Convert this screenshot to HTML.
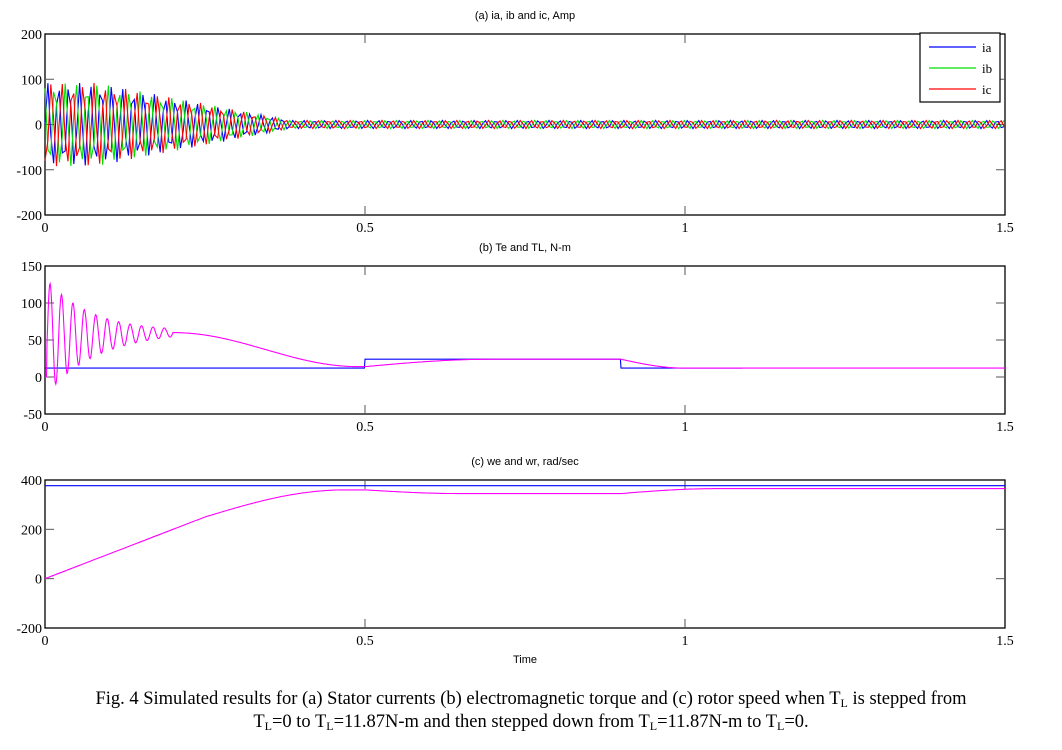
<!DOCTYPE html>
<html><head><meta charset="utf-8"><style>
body{margin:0;background:#fff;width:1062px;height:750px;overflow:hidden}
svg text{font-family:"Liberation Serif",serif}
.t{font-family:"Liberation Sans",sans-serif;font-size:11px}
.cap{position:absolute;left:0;width:1062px;text-align:center;font-family:"Liberation Serif",serif;font-size:18.5px;line-height:22px;color:#000}
sub{font-size:12px;vertical-align:-3px;line-height:0}
</style></head><body>
<svg id="s" width="1062" height="750" style="position:absolute;left:0;top:0"></svg>
<div class="cap" style="top:688px">Fig. 4 Simulated results for (a) Stator currents (b) electromagnetic torque and (c) rotor speed when T<sub>L</sub> is stepped from</div>
<div class="cap" style="top:711px">T<sub>L</sub>=0 to T<sub>L</sub>=11.87N-m and then stepped down from T<sub>L</sub>=11.87N-m to T<sub>L</sub>=0.</div>
<script>
var S=document.getElementById('s'),h='';
var L=45,R=1005;
function X(t){return L+t*640}
function axes(top,bot,ymin,ymax,yt,title,xlab){
 h+='<text class="t" x="525" y="'+(top-15)+'" text-anchor="middle" font-size="11">'+title+'</text>';
 h+='<rect x="'+L+'" y="'+top+'" width="'+(R-L)+'" height="'+(bot-top)+'" fill="none" stroke="#000" stroke-width="1.3"/>';
 [0.5,1].forEach(function(t){var x=X(t);h+='<line x1="'+x+'" y1="'+top+'" x2="'+x+'" y2="'+(top+9)+'" stroke="#555"/><line x1="'+x+'" y1="'+bot+'" x2="'+x+'" y2="'+(bot-9)+'" stroke="#555"/>';});
 [[0,'0'],[0.5,'0.5'],[1,'1'],[1.5,'1.5']].forEach(function(a){h+='<text x="'+X(a[0])+'" y="'+(bot+17)+'" font-size="14" text-anchor="middle">'+a[1]+'</text>';});
 yt.forEach(function(v){var y=bot-(v-ymin)/(ymax-ymin)*(bot-top);
  h+='<text x="'+(L-3)+'" y="'+(y+5)+'" font-size="14" text-anchor="end">'+(v<0?'-'+(-v):v)+'</text>';
  if(v>ymin&&v<ymax)h+='<line x1="'+L+'" y1="'+y+'" x2="'+(L+9)+'" y2="'+y+'" stroke="#555"/><line x1="'+R+'" y1="'+y+'" x2="'+(R-9)+'" y2="'+y+'" stroke="#555"/>';});
 if(xlab)h+='<text class="t" x="525" y="'+(bot+35)+'" text-anchor="middle" font-size="12">'+xlab+'</text>';
}
function line(f,top,bot,ymin,ymax,col,t0,t1,dt){
 var p=[];for(var t=t0;t<=t1+1e-9;t+=dt){var v=f(t);p.push(X(t).toFixed(1)+','+(bot-(v-ymin)/(ymax-ymin)*(bot-top)).toFixed(1));}
 h+='<polyline points="'+p.join(' ')+'" fill="none" stroke="'+col+'" stroke-width="1.1"/>';
}
// (a)
axes(34,215,-200,200,[-200,-100,0,100,200],'(a) ia, ib and ic, Amp');
function env(t){if(t<0.08)return 92;if(t<0.38)return 92-82*(t-0.08)/0.3;return 9;}
function cur(ph){return function(t){var w=2*Math.PI*60*t;return env(t)*Math.sin(w+ph);}}
line(cur(0),34,215,-200,200,'#0000ff',0,1.5,0.0045);
line(cur(2.094),34,215,-200,200,'#00e000',0,1.5,0.0045);
line(cur(-2.094),34,215,-200,200,'#ff0000',0,1.5,0.0045);
h+='<rect x="920" y="33" width="80" height="69" fill="#fff" stroke="#000" stroke-width="1.2"/>';
[['#0000ff','ia',47],['#00e000','ib',68],['#ff0000','ic',89]].forEach(function(a){h+='<line x1="929" y1="'+a[2]+'" x2="976" y2="'+a[2]+'" stroke="'+a[0]+'" stroke-width="1.2"/><text x="982" y="'+(a[2]+5)+'" font-size="13">'+a[1]+'</text>';});
// (b)
axes(266,414,-50,150,[-50,0,50,100,150],'(b) Te and TL, N-m');
function TL(t){return (t>=0.5&&t<0.9)?24:12;}
line(TL,266,414,-50,150,'#0000ff',0,1.09,0.001);
function Te(t){var m;
 if(t<0.2)m=54+6*t/0.2;else if(t<0.49)m=14+46*(1+Math.cos(Math.PI*(t-0.2)/0.29))/2;else if(t<0.5)m=14;
 else if(t<0.7)m=14+10*Math.sin(Math.PI/2*(t-0.5)/0.2);else if(t<0.9)m=24;else if(t<1.0)m=24-12*Math.sin(Math.PI/2*(t-0.9)/0.1);else m=12;
 var a=t<0.2?80*Math.exp(-t/0.075):0;
 if(t<0.003)return 0;
 return m+a*Math.sin(2*Math.PI*56*(t-0.0035));}
line(Te,266,414,-50,150,'#ff00ff',0,1.5,0.0008);
// (c)
axes(480,628,-200,400,[-200,0,200,400],'(c) we and wr, rad/sec','Time');
line(function(){return 377},480,628,-200,400,'#0000ff',0,1.5,0.05);
function wr(t){var v;
 if(t<0.25)v=1000*t;else if(t<0.47)v=250+110*Math.sin(Math.PI/2*(t-0.25)/0.22);else v=360;
 if(t>0.5&&t<0.9)v-=15*Math.sin(Math.PI/2*Math.min(1,(t-0.5)/0.15));
 if(t>=0.9){var d=Math.min(1,(t-0.9)/0.15);v=345+20*Math.sin(Math.PI/2*d);}
 return v;}
line(wr,480,628,-200,400,'#ff00ff',0,1.5,0.002);
S.innerHTML=h;
</script>
</body></html>
